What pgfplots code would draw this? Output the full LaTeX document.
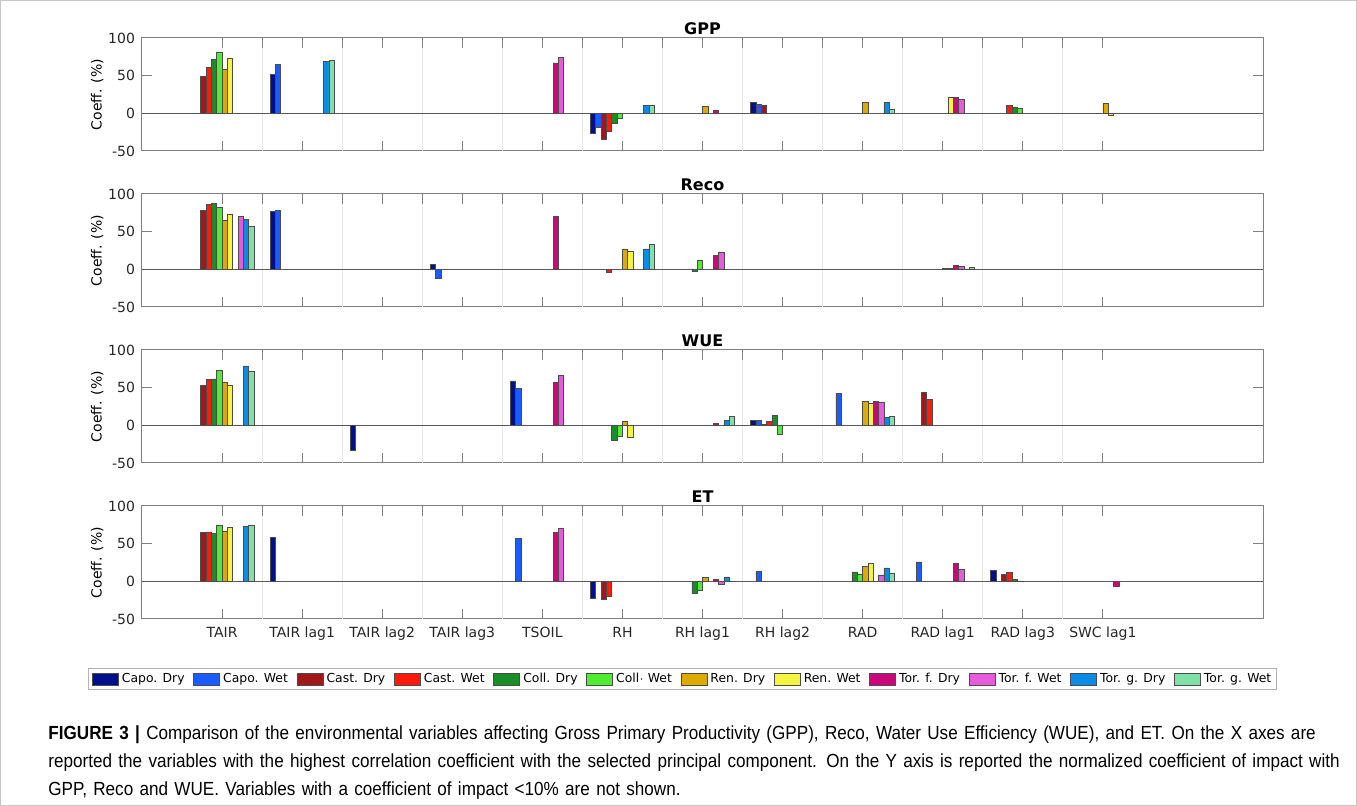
\documentclass[border=0pt]{standalone}
\usepackage{fontspec}
\setmainfont{DejaVu Sans}
\newfontfamily\capfont{Liberation Sans}[FakeStretch=0.9]
\usepackage{pgfplots}
\usepackage{pgfplotstable}
\pgfplotsset{compat=1.18}

\definecolor{capoD}{HTML}{00108C}
\definecolor{capoW}{HTML}{1A5CFF}
\definecolor{castD}{HTML}{A0181C}
\definecolor{castW}{HTML}{FF1A0A}
\definecolor{collD}{HTML}{1A8C28}
\definecolor{collW}{HTML}{50EB32}
\definecolor{renD}{HTML}{DCAA00}
\definecolor{renW}{HTML}{F5F541}
\definecolor{torfD}{HTML}{C8087A}
\definecolor{torfW}{HTML}{E65ADC}
\definecolor{torgD}{HTML}{0A8CE6}
\definecolor{torgW}{HTML}{80E0A8}
\definecolor{axgray}{HTML}{7F7F7F}

% columns: TAIR, TAIR lag1, TAIR lag2, TAIR lag3, TSOIL, RH, RH lag1, RH lag2, RAD, RAD lag1, RAD lag3, SWC lag1
\pgfplotstableread{
cat s1 s2 s3 s4 s5 s6 s7 s8 s9 s10 s11 s12
1 nan nan 49 61 72 81 58 73 nan nan nan nan
2 52 65 nan nan nan nan nan nan nan nan 69 70
3 nan nan nan nan nan nan nan nan nan nan nan nan
4 nan nan nan nan nan nan nan nan nan nan nan nan
5 nan nan nan nan nan nan nan nan 67 74 nan nan
6 -26 -19 -35 -24 -13 -7 nan nan nan nan 11 10
7 nan nan nan nan nan nan 9 nan 3.5 nan nan nan
8 15 12 11 nan nan nan nan nan nan nan nan nan
9 nan nan nan nan nan nan 15 nan nan nan 14 6
10 nan nan nan nan nan nan nan 21 21 19 nan nan
11 nan nan nan 11 8.5 7 nan nan nan nan nan nan
12 nan nan nan nan nan nan 13 -2 nan nan nan nan
}\gpp

\pgfplotstableread{
cat s1 s2 s3 s4 s5 s6 s7 s8 s9 s10 s11 s12
1 nan nan 79 86 88 82 65 73 nan 70 66 57
2 77 78 nan nan nan nan nan nan nan nan nan nan
3 nan nan nan nan nan nan nan nan nan nan nan nan
4 7 -12 nan nan nan nan nan nan nan nan nan nan
5 nan nan nan nan nan nan nan nan 70 nan nan nan
6 nan nan nan -4 nan nan 27 24 nan nan 27 33
7 nan nan nan nan -2 12 nan nan 19 23 nan nan
8 nan nan nan nan nan nan nan nan nan nan nan nan
9 nan nan nan nan nan nan nan nan nan nan nan nan
10 nan nan nan nan nan nan 1.3 0.9 5.3 4 0.5 2.7
11 nan nan nan nan nan nan nan nan nan nan nan nan
12 nan nan nan nan nan nan nan nan nan nan nan nan
}\reco

\pgfplotstableread{
cat s1 s2 s3 s4 s5 s6 s7 s8 s9 s10 s11 s12
1 nan nan 53.5 60.6 61.5 73 56.6 53 nan nan 79 72
2 nan nan nan nan nan nan nan nan nan nan nan nan
3 -33 nan nan nan nan nan nan nan nan nan nan nan
4 nan nan nan nan nan nan nan nan nan nan nan nan
5 59 49 nan nan nan nan nan nan 57.5 66.4 nan nan
6 nan nan nan nan -20 -14 5 -16 nan nan nan nan
7 nan nan nan nan nan nan nan nan 2.2 nan 7 12
8 6.2 6.6 1.3 4.9 13.3 -11.5 nan nan nan nan nan nan
9 nan 42.5 nan nan nan nan 32 29 32 31 10.6 12
10 nan nan 44 34.5 nan nan nan nan nan nan nan nan
11 nan nan nan nan nan nan nan nan nan nan nan nan
12 nan nan nan nan nan nan nan nan nan nan nan nan
}\wue

\pgfplotstableread{
cat s1 s2 s3 s4 s5 s6 s7 s8 s9 s10 s11 s12
1 nan nan 64.6 65.5 63.7 74 66.4 71.2 nan nan 73 74
2 58 nan nan nan nan nan nan nan nan nan nan nan
3 nan nan nan nan nan nan nan nan nan nan nan nan
4 nan nan nan nan nan nan nan nan nan nan nan nan
5 nan 57 nan nan nan nan nan nan 64.6 70.4 nan nan
6 -22.6 nan -24 -19.5 nan nan nan nan nan nan nan nan
7 nan nan nan nan -15.5 -12.4 4.9 nan 2.2 -4 5.8 0.4
8 nan 12.8 nan nan nan nan nan nan nan nan nan nan
9 nan nan nan nan 12.4 8.9 19.5 23.5 nan 8.4 17.7 11.1
10 nan 25.7 nan nan nan nan nan nan 23.5 15.5 nan nan
11 14.6 nan 8.9 11.9 2.7 0.5 nan nan nan nan nan nan
12 nan nan nan nan nan nan nan nan -6 nan nan nan
}\et

\newcommand\bars[1]{%
  \addplot[fill=capoD, bar shift=-0.3667] table[x=cat,y=s1]{#1};
  \addplot[fill=capoW, bar shift=-0.3000] table[x=cat,y=s2]{#1};
  \addplot[fill=castD, bar shift=-0.2333] table[x=cat,y=s3]{#1};
  \addplot[fill=castW, bar shift=-0.1667] table[x=cat,y=s4]{#1};
  \addplot[fill=collD, bar shift=-0.1000] table[x=cat,y=s5]{#1};
  \addplot[fill=collW, bar shift=-0.0333] table[x=cat,y=s6]{#1};
  \addplot[fill=renD, bar shift=0.0333] table[x=cat,y=s7]{#1};
  \addplot[fill=renW, bar shift=0.1000] table[x=cat,y=s8]{#1};
  \addplot[fill=torfD, bar shift=0.1667] table[x=cat,y=s9]{#1};
  \addplot[fill=torfW, bar shift=0.2333] table[x=cat,y=s10]{#1};
  \addplot[fill=torgD, bar shift=0.3000] table[x=cat,y=s11]{#1};
  \addplot[fill=torgW, bar shift=0.3667] table[x=cat,y=s12]{#1};
}

\pgfplotsset{
  box/.style={scale only axis, width=560.5pt, height=56.5pt, anchor=north west,
    xmin=0, xmax=14, ymin=-50, ymax=100},
  panel/.style={box,
    ybar, bar width=0.0667,
    ytick={-50,0,50,100}, xtick={1,...,12}, xticklabels={},
    /pgf/number format/assume math mode=true,
    tick align=inside, major tick length=5pt,
    tick style={axgray, line width=0.5pt},
    axis line style={axgray, line width=0.5pt},
    tick label style={font=\fontsize{7}{8}\selectfont, text=black!85},
    ylabel={Coeff. (\%)},
    ylabel style={font=\fontsize{7}{8}\selectfont, at={(axis description cs:-0.040,0.5)}, anchor=center},
    every axis title shift=0pt,
    title style={font=\bfseries\fontsize{8}{9}\selectfont, at={(axis description cs:0.5,1)}, anchor=base, yshift=1.5pt},
    extra x ticks={1.5,2.5,...,11.5}, extra x tick labels={},
    extra x tick style={grid=major, major tick length=0pt, major grid style={gray!18, line width=0.5pt}},
    extra y ticks={0}, extra y tick labels={},
    extra y tick style={grid=major, major tick length=0pt, major grid style={black!65, line width=0.5pt}},
    every axis plot/.append style={draw=black!70, line width=0.3pt},
  },
  toptk/.style={box, axis x line*=top, axis y line=none,
    xtick={1,1.5,...,12}, xticklabels={}, tick align=inside, major tick length=5pt,
    tick style={axgray, line width=0.5pt}, axis line style={draw=none}},
}

\begin{document}
\begin{tikzpicture}
\path[use as bounding box] (0,0) rectangle (678.5pt,-403pt);
\draw[gray!45, line width=0.5pt] (0.25pt,-0.25pt) rectangle (678.25pt,-402.75pt);

\begin{axis}[panel, at={(71pt,-19pt)}, title={GPP}]
\bars{\gpp}
\end{axis}
\begin{axis}[toptk, at={(71pt,-19pt)}]\end{axis}

\begin{axis}[panel, at={(71pt,-97pt)}, title={Reco}]
\bars{\reco}
\end{axis}
\begin{axis}[toptk, at={(71pt,-97pt)}]\end{axis}

\begin{axis}[panel, at={(71pt,-175pt)}, title={WUE}]
\bars{\wue}
\end{axis}
\begin{axis}[toptk, at={(71pt,-175pt)}]\end{axis}

\begin{axis}[panel, at={(71pt,-253pt)}, title={ET},
  xticklabels={TAIR, TAIR lag1, TAIR lag2, TAIR lag3, TSOIL, RH, RH lag1, RH lag2, RAD, RAD lag1, RAD lag3, SWC lag1},
  xticklabel style={anchor=base, yshift=-9.5pt},
  legend columns=12,
  legend image code/.code={\draw[#1] (0pt,-3pt) rectangle (13pt,3pt);},
  legend style={at={(axis description cs:0.482,-0.531)}, anchor=center,
    draw=gray!60, fill=white, font=\fontsize{6.2}{7}\selectfont,
    inner xsep=2pt, inner ysep=1.5pt,
    nodes={inner sep=0.6pt},
    /tikz/every odd column/.append style={column sep=1pt},
    /tikz/every even column/.append style={column sep=3.8pt}},
  legend entries={Capo. Dry, Capo. Wet, Cast. Dry, Cast. Wet, Coll. Dry, Coll$\cdot$ Wet, Ren. Dry, Ren. Wet, Tor. f. Dry, Tor. f. Wet, Tor. g. Dry, Tor. g. Wet}]
\bars{\et}
\end{axis}
\begin{axis}[toptk, at={(71pt,-253pt)}]\end{axis}

\node[anchor=north west, inner sep=0pt, align=left, text width=665pt,
  font=\capfont\fontsize{9.5}{14.2}\selectfont] at (24pt,-362.5pt)
  {\textbf{FIGURE 3 |} Comparison of the environmental variables affecting Gross Primary Productivity (GPP), Reco, Water Use Efficiency (WUE), and ET. On the X axes are\\
  reported the variables with the highest correlation coefficient with the selected principal component. On the Y axis is reported the normalized coefficient of impact with\\
  GPP, Reco and WUE. Variables with a coefficient of impact <10\% are not shown.};
\end{tikzpicture}
\end{document}
